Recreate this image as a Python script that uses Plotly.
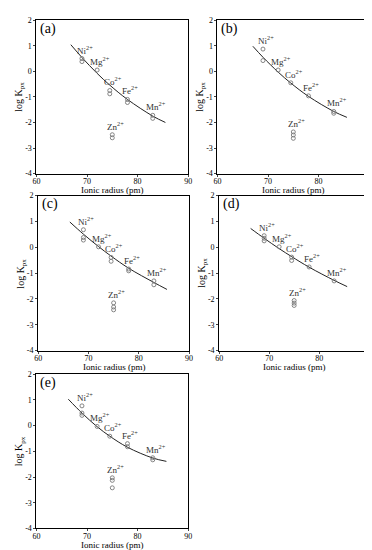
import plotly.graph_objects as go

# ---- data ----
ions = ["Ni", "Mg", "Co", "Fe", "Mn", "Zn"]
radius = [69, 72, 74.5, 78, 83, 75]

logk_a = [[0.50, 0.38], [0.05], [-0.75, -0.88], [-1.10, -1.22], [-1.72, -1.84], [-2.48, -2.60]]
logk_b = [[0.87, 0.42], [0.05], [-0.45], [-0.96], [-1.57, -1.64], [-2.37, -2.49, -2.62]]
logk_c = [[0.68, 0.38, 0.28], [0.02], [-0.39, -0.54], [-0.84, -0.91], [-1.30, -1.45], [-2.15, -2.31, -2.42]]
logk_d = [[0.45, 0.35, 0.25], [0.02], [-0.38, -0.51], [-0.76], [-1.30], [-2.06, -2.16, -2.25]]
logk_e = [[0.77, 0.49, 0.40], [-0.03], [-0.41], [-0.70, -0.82], [-1.25, -1.33], [-2.03, -2.13, -2.42]]

curve_x_a = [66.8, 69, 72, 74.5, 78, 83, 85.5]
curve_y_a = [1.04, 0.54, -0.08, -0.54, -1.10, -1.75, -2.00]
curve_x_b = [67.0, 69, 72, 74.5, 78, 83, 85.6]
curve_y_b = [0.98, 0.55, -0.03, -0.46, -0.98, -1.57, -1.80]
curve_x_c = [66.3, 69, 72, 74.5, 78, 83, 85.6]
curve_y_c = [0.98, 0.51, 0.03, -0.34, -0.81, -1.36, -1.63]
curve_x_d = [66.3, 69, 72, 74.5, 78, 83, 85.6]
curve_y_d = [0.73, 0.35, -0.05, -0.36, -0.77, -1.28, -1.52]
curve_x_e = [66.3, 69, 72, 74.5, 78, 83, 85.7]
curve_y_e = [1.03, 0.49, -0.04, -0.41, -0.84, -1.26, -1.39]

panel_names = ["(a)", "(b)", "(c)", "(d)", "(e)"]
xtick_vals = [60, 70, 80, 90]
xtick_text = ["60", "70", "80", "90"]
ytick_vals = [-4, -3, -2, -1, 0, 1, 2]
ytick_text = ["-4", "-3", "-2", "-1", "0", "1", "2"]

panels = [
    (logk_a, curve_x_a, curve_y_a),
    (logk_b, curve_x_b, curve_y_b),
    (logk_c, curve_x_c, curve_y_c),
    (logk_d, curve_x_d, curve_y_d),
    (logk_e, curve_x_e, curve_y_e),
]

# ---- layout (pixel boxes of each panel: left, right, top, bottom) ----
W, H = 372, 550
boxes = [
    (25, 180, 8.3, 164.3),
    (210, 365, 8.3, 164.3),
    (26.7, 181, 186.7, 344.3),
    (211.7, 365, 186.7, 344.3),
    (25, 180, 368.3, 525),
]

FONT = "Liberation Serif"
fig = go.Figure()
annotations = []
layout_axes = {}

for i, ((vals, cx, cy), (l, r, t, b)) in enumerate(zip(panels, boxes)):
    n = i + 1
    xa = "x" if n == 1 else f"x{n}"
    ya = "y" if n == 1 else f"y{n}"
    xkey = "xaxis" if n == 1 else f"xaxis{n}"
    ykey = "yaxis" if n == 1 else f"yaxis{n}"

    # fitted curve
    fig.add_trace(go.Scatter(x=cx, y=cy, mode="lines", line=dict(color="#222", width=1, shape="spline"),
                             xaxis=xa, yaxis=ya, showlegend=False, hoverinfo="skip"))
    # data points
    px, py = [], []
    for rad, v in zip(radius, vals):
        for val in v:
            px.append(rad)
            py.append(val)
    fig.add_trace(go.Scatter(x=px, y=py, mode="markers",
                             marker=dict(symbol="circle-open", size=4, color="#777", line=dict(width=0.9)),
                             xaxis=xa, yaxis=ya, showlegend=False))
    # ion labels
    for ion, rad, v in zip(ions, radius, vals):
        annotations.append(dict(x=rad, y=max(v), xref=xa, yref=ya, text=f"{ion}<sup>2+</sup>",
                                showarrow=False, xanchor="center", yanchor="bottom", xshift=3, yshift=1,
                                font=dict(family=FONT, size=9, color="#333")))

    layout_axes[xkey] = dict(domain=[l / W, r / W], range=[60, 90], anchor=ya,
                             tickvals=xtick_vals, ticktext=xtick_text, ticks="outside", ticklen=2,
                             ticklabelstandoff=-2,
                             showline=True, mirror=True, linecolor="black", linewidth=1,
                             showgrid=False, zeroline=False,
                             tickfont=dict(family=FONT, size=8, color="black"))
    layout_axes[ykey] = dict(domain=[1 - b / H, 1 - t / H], range=[-4, 2], anchor=xa,
                             tickvals=ytick_vals, ticktext=ytick_text, ticks="outside", ticklen=2,
                             showline=True, mirror=True, linecolor="black", linewidth=1,
                             showgrid=False, zeroline=False,
                             tickfont=dict(family=FONT, size=8, color="black"))

    # panel letter
    annotations.append(dict(x=(l + 2) / W, y=1 - (t + 9) / H, xref="paper", yref="paper",
                            text=panel_names[i], showarrow=False, xanchor="left", yanchor="middle",
                            font=dict(family=FONT, size=14, color="black")))
    # x title
    annotations.append(dict(x=(l + r) / 2 / W, y=1 - (b + 17) / H, xref="paper", yref="paper",
                            text="Ionic radius (pm)", showarrow=False, xanchor="center", yanchor="middle",
                            font=dict(family=FONT, size=9, color="black")))
    # y title
    annotations.append(dict(x=(l - 17) / W, y=1 - ((t + b) / 2) / H, xref="paper", yref="paper",
                            text="log K<sub>px</sub>", showarrow=False, textangle=-90,
                            xanchor="center", yanchor="middle",
                            font=dict(family=FONT, size=10, color="black")))

fig.update_layout(width=W, height=H, margin=dict(l=0, r=0, t=0, b=0),
                  paper_bgcolor="white", plot_bgcolor="white",
                  annotations=annotations, **layout_axes)

fig.write_html("out.html")
